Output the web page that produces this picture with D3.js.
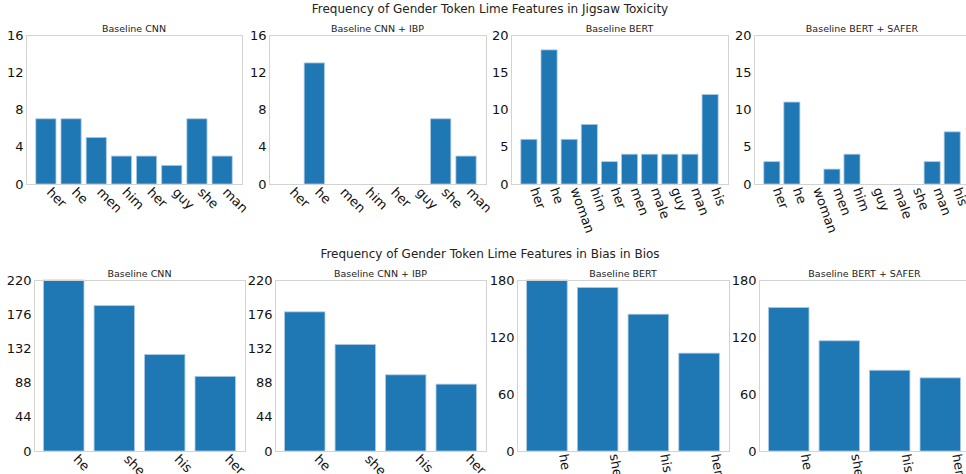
<!DOCTYPE html>
<html>
<head>
<meta charset="utf-8">
<script src="https://cdn.jsdelivr.net/npm/d3@7.9.0/dist/d3.min.js"></script>
<style>
  body { margin: 0; background: #fff; }
  svg { display: block; font-family: "DejaVu Sans", sans-serif; }
</style>
</head>
<body>
<svg id="chart" width="966" height="474"></svg>
<script>
// Jigsaw Toxicity (top row)
const jigsawCnnTokens = ['her', 'he', 'men', 'him', 'her', 'guy', 'she', 'man'];
const jigsawCnn = [7, 7, 5, 3, 3, 2, 7, 3];
const jigsawCnnIbp = [0, 13, 0, 0, 0, 0, 7, 3];
const jigsawBertTokens = ['her', 'he', 'woman', 'him', 'her', 'men', 'male', 'guy', 'man', 'his'];
const jigsawBert = [6, 18, 6, 8, 3, 4, 4, 4, 4, 12];
const jigsawSaferTokens = ['her', 'he', 'woman', 'men', 'him', 'guy', 'male', 'she', 'man', 'his'];
const jigsawSafer = [3, 11, 0, 2, 4, 0, 0, 0, 3, 7];
const ticksCnnTop = [0, 4, 8, 12, 16];
const ticksBertTop = [0, 5, 10, 15, 20];

// Bias in Bios (bottom row)
const biosTokens = ['he', 'she', 'his', 'her'];
const biosCnn = [220, 187, 124, 96];
const biosCnnIbp = [179, 137, 98, 86];
const biosBert = [180, 172, 144, 103];
const biosSafer = [151, 116, 85, 77];
const ticksCnnBottom = [0, 44, 88, 132, 176, 220];
const ticksBertBottom = [0, 60, 120, 180];

const svg = d3.select('#chart');
const barColor = '#1f77b4';

const panels = [
  { title: 'Baseline CNN', tokens: jigsawCnnTokens, values: jigsawCnn, ticks: ticksCnnTop,
    box: [26, 242, 35, 184], rot: 45, dx: 0 },
  { title: 'Baseline CNN + IBP', tokens: jigsawCnnTokens, values: jigsawCnnIbp, ticks: ticksCnnTop,
    box: [269, 486, 35, 184], rot: 45, dx: 0 },
  { title: 'Baseline BERT', tokens: jigsawBertTokens, values: jigsawBert, ticks: ticksBertTop,
    box: [511, 728, 35, 184], rot: 70, dx: 1 },
  { title: 'Baseline BERT + SAFER', tokens: jigsawSaferTokens, values: jigsawSafer, ticks: ticksBertTop,
    box: [754, 970, 35, 184], rot: 70, dx: 1 },
  { title: 'Baseline CNN', tokens: biosTokens, values: biosCnn, ticks: ticksCnnBottom,
    box: [34, 245, 280, 451], rot: 45, dx: 9 },
  { title: 'Baseline CNN + IBP', tokens: biosTokens, values: biosCnnIbp, ticks: ticksCnnBottom,
    box: [275, 486, 280, 451], rot: 45, dx: 9 },
  { title: 'Baseline BERT', tokens: biosTokens, values: biosBert, ticks: ticksBertBottom,
    box: [517, 729, 280, 451], rot: 80, dx: 12 },
  { title: 'Baseline BERT + SAFER', tokens: biosTokens, values: biosSafer, ticks: ticksBertBottom,
    box: [759, 970, 280, 451], rot: 80, dx: 12 },
];

function drawPanel(p) {
  const [x0, x1, y0, y1] = p.box;
  const n = p.values.length;
  const pad = 0.05 * (n - 0.2);
  const x = d3.scaleLinear().domain([-0.4 - pad, n - 0.6 + pad]).range([x0, x1]);
  const y = d3.scaleLinear().domain([0, d3.max(p.ticks)]).range([y1, y0]);
  const g = svg.append('g');

  // bars
  g.selectAll('rect')
    .data(p.values)
    .join('rect')
    .attr('x', (d, i) => x(i - 0.4))
    .attr('width', x(0.8) - x(0))
    .attr('y', d => y(d))
    .attr('height', d => y(0) - y(d))
    .attr('fill', barColor)
    .attr('stroke', d => d > 0 ? '#a9c9e4' : 'none')
    .attr('stroke-width', 0.8);

  // frame
  g.append('rect')
    .attr('x', x0 + 0.5).attr('y', y0 + 0.5)
    .attr('width', x1 - x0).attr('height', y1 - y0)
    .attr('fill', 'none').attr('stroke', '#d3d3d3').attr('stroke-width', 1);

  // y axis
  const yAxis = d3.axisLeft(y).tickValues(p.ticks).tickSize(0).tickPadding(2.5);
  g.append('g').attr('transform', `translate(${x0},0)`).call(yAxis)
    .call(s => s.select('.domain').remove())
    .selectAll('text')
    .attr('font-size', 13).attr('font-family', 'DejaVu Sans').attr('fill', '#111');

  // x tick labels, top of first glyph just under the axis
  const lift = 10 * Math.cos(p.rot * Math.PI / 180);
  g.selectAll('text.xl')
    .data(p.tokens)
    .join('text')
    .attr('class', 'xl')
    .attr('transform', (d, i) => `translate(${x(i) + p.dx},${y1 + 2 + lift}) rotate(${p.rot})`)
    .attr('font-size', 13)
    .attr('fill', '#111')
    .text(d => d);

  // title
  g.append('text')
    .attr('x', (x0 + x1) / 2)
    .attr('y', y0 - 3)
    .attr('text-anchor', 'middle')
    .attr('font-size', 9.5)
    .attr('fill', '#222')
    .text(p.title);
}

panels.forEach(drawPanel);

svg.append('text').attr('x', 490).attr('y', 13).attr('text-anchor', 'middle')
  .attr('font-size', 12).attr('fill', '#222')
  .text('Frequency of Gender Token Lime Features in Jigsaw Toxicity');
svg.append('text').attr('x', 490).attr('y', 258).attr('text-anchor', 'middle')
  .attr('font-size', 12).attr('fill', '#222')
  .text('Frequency of Gender Token Lime Features in Bias in Bios');
</script>
</body>
</html>
